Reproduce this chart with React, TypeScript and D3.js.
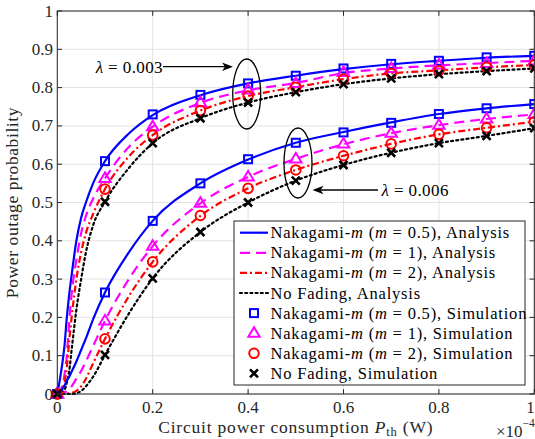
import React from "react";
import * as d3 from "d3";

// ---------- data ----------
const pFine = [0, 0.005, 0.01, 0.015, 0.02, 0.025, 0.03, 0.04, 0.05, 0.06, 0.075, 0.1, 0.15, 0.2, 0.3, 0.4, 0.5, 0.6, 0.7, 0.8, 0.9, 1.0];
// lambda = 0.003 (analysis)
const upBlueA = [0, 0.035, 0.075, 0.125, 0.2, 0.26, 0.31, 0.4, 0.46, 0.5, 0.55, 0.608, 0.68, 0.728, 0.78, 0.811, 0.831, 0.848, 0.861, 0.87, 0.878, 0.883];
const upMagA = [0, 0.005, 0.02, 0.05, 0.1, 0.19, 0.26, 0.35, 0.42, 0.465, 0.51, 0.563, 0.645, 0.698, 0.76, 0.793, 0.812, 0.838, 0.85, 0.858, 0.864, 0.87];
const upRedA = [0, 0.002, 0.01, 0.03, 0.07, 0.14, 0.2, 0.3, 0.37, 0.42, 0.47, 0.535, 0.62, 0.676, 0.74, 0.778, 0.801, 0.822, 0.837, 0.845, 0.853, 0.859];
const upBlkA = [0, 0, 0.002, 0.01, 0.03, 0.06, 0.115, 0.22, 0.3, 0.37, 0.44, 0.502, 0.59, 0.655, 0.72, 0.761, 0.788, 0.809, 0.824, 0.835, 0.843, 0.85];
// lambda = 0.006 (analysis)
const loBlueA = [0, 0.003, 0.012, 0.022, 0.035, 0.045, 0.058, 0.085, 0.115, 0.145, 0.195, 0.265, 0.37, 0.452, 0.55, 0.612, 0.656, 0.684, 0.709, 0.731, 0.746, 0.757];
const loMagA = [0, 0, 0.002, 0.004, 0.008, 0.013, 0.02, 0.04, 0.06, 0.085, 0.125, 0.191, 0.3, 0.386, 0.498, 0.567, 0.614, 0.652, 0.681, 0.702, 0.718, 0.73];
const loRedA = [0, 0, 0, 0.001, 0.001, 0.002, 0.003, 0.008, 0.02, 0.04, 0.08, 0.144, 0.255, 0.345, 0.465, 0.537, 0.585, 0.622, 0.653, 0.678, 0.695, 0.711];
const loBlkA = [0, 0, 0, 0, 0, 0, 0, 0.002, 0.008, 0.02, 0.045, 0.102, 0.21, 0.302, 0.423, 0.5, 0.557, 0.598, 0.63, 0.655, 0.674, 0.694];

const pSim = [0, 0.1, 0.2, 0.3, 0.4, 0.5, 0.6, 0.7, 0.8, 0.9, 1.0];
const upBlueS = [0, 0.608, 0.73, 0.781, 0.811, 0.831, 0.85, 0.862, 0.87, 0.879, 0.883];
const upMagS = [0, 0.563, 0.698, 0.761, 0.794, 0.811, 0.84, 0.85, 0.859, 0.863, 0.87];
const upRedS = [0, 0.535, 0.676, 0.74, 0.778, 0.801, 0.822, 0.837, 0.844, 0.853, 0.859];
const upBlkS = [0, 0.502, 0.655, 0.72, 0.761, 0.788, 0.809, 0.824, 0.835, 0.843, 0.85];
const loBlueS = [0, 0.265, 0.452, 0.55, 0.613, 0.656, 0.683, 0.708, 0.731, 0.746, 0.757];
const loMagS = [0, 0.191, 0.386, 0.498, 0.567, 0.614, 0.653, 0.681, 0.702, 0.718, 0.73];
const loRedS = [0, 0.144, 0.345, 0.466, 0.537, 0.585, 0.622, 0.653, 0.678, 0.695, 0.711];
const loBlkS = [0, 0.102, 0.302, 0.423, 0.5, 0.557, 0.598, 0.63, 0.655, 0.674, 0.694];

const xTicks = [0, 0.2, 0.4, 0.6, 0.8, 1];
const xTickLabels = ["0", "0.2", "0.4", "0.6", "0.8", "1"];
const yTicks = [0, 0.1, 0.2, 0.3, 0.4, 0.5, 0.6, 0.7, 0.8, 0.9, 1];
const yTickLabels = ["0", "0.1", "0.2", "0.3", "0.4", "0.5", "0.6", "0.7", "0.8", "0.9", "1"];

const legendNames = [
  ["Nakagami-", "m", " (", "m", " = 0.5), Analysis"],
  ["Nakagami-", "m", " (", "m", " = 1), Analysis"],
  ["Nakagami-", "m", " (", "m", " = 2), Analysis"],
  ["No Fading, Analysis"],
  ["Nakagami-", "m", " (", "m", " = 0.5), Simulation"],
  ["Nakagami-", "m", " (", "m", " = 1), Simulation"],
  ["Nakagami-", "m", " (", "m", " = 2), Simulation"],
  ["No Fading, Simulation"],
];

const BLUE = "#0000ff";
const MAG = "#ff00ff";
const RED = "#ff0000";
const BLK = "#000000";
const FONT = '"Liberation Serif", "Times New Roman", serif';

const lineStyles = [
  { color: BLUE, dash: "none" },
  { color: MAG, dash: "10,6" },
  { color: RED, dash: "7,3,2,3" },
  { color: BLK, dash: "2,3.2" },
];

function Marker({ kind, x, y }: { kind: number; x: number; y: number }) {
  if (kind === 0)
    return <rect x={x - 4} y={y - 4} width={8} height={8} fill="none" stroke={BLUE} strokeWidth={2} />;
  if (kind === 1) {
    const s = 6;
    return (
      <path
        d={`M${x},${y - s} L${x + s * 0.95},${y + s * 0.6} L${x - s * 0.95},${y + s * 0.6} Z`}
        fill="none"
        stroke={MAG}
        strokeWidth={2}
        strokeLinejoin="miter"
      />
    );
  }
  if (kind === 2) return <circle cx={x} cy={y} r={4.8} fill="none" stroke={RED} strokeWidth={2} />;
  const s = 4;
  return (
    <path d={`M${x - s},${y - s} L${x + s},${y + s} M${x - s},${y + s} L${x + s},${y - s}`} stroke={BLK} strokeWidth={2.6} />
  );
}

const textStyle = (size: number, ls = 0): React.CSSProperties => ({
  fontFamily: FONT,
  fontSize: size,
  letterSpacing: ls,
});

function Lambda({ x, y, val, anchor }: { x: number; y: number; val: string; anchor: "start" | "end" }) {
  return (
    <text x={x} y={y} style={textStyle(17, 0.4)} textAnchor={anchor}>
      <tspan fontStyle="italic">λ</tspan>
      <tspan> = {val}</tspan>
    </text>
  );
}

export default function App() {
  const W = 535;
  const H = 439;
  const x = d3.scaleLinear().domain([0, 1]).range([57.3, 534.3]);
  const y = d3.scaleLinear().domain([0, 1]).range([394, 11]);
  const line = d3
    .line<[number, number]>()
    .x((d) => x(d[0]))
    .y((d) => y(d[1]))
    .curve(d3.curveMonotoneX);

  const analysis = [upBlueA, upMagA, upRedA, upBlkA, loBlueA, loMagA, loRedA, loBlkA];
  const sims = [upBlueS, upMagS, upRedS, upBlkS, loBlueS, loMagS, loRedS, loBlkS];

  const [x0, x1] = x.range();
  const [yb, yt] = y.range();
  const tickLen = 4.8;

  const legX = 234, legY = 221, legW = 291, legH = 164;
  const rowY = (i: number) => 232.7 + i * 20.1;

  const arrowHead = (tx: number, ty: number, dir: number) =>
    `M${tx},${ty} L${tx - dir * 11},${ty - 4.2} L${tx - dir * 8},${ty} L${tx - dir * 11},${ty + 4.2} Z`;

  return (
    <svg
      width={W}
      height={H}
      viewBox={`0 0 ${W} ${H}`}
      style={{ position: "absolute", left: 0, top: 0, background: "#fff" }}
    >
      <rect x={0} y={0} width={W} height={H} fill="#fff" />
      {/* grid */}
      <g stroke="#e3e3e3" strokeWidth={1}>
        {xTicks.map((t) => (
          <line key={"gx" + t} x1={x(t)} x2={x(t)} y1={yb} y2={yt} />
        ))}
        {yTicks.map((t) => (
          <line key={"gy" + t} x1={x0} x2={x1} y1={y(t)} y2={y(t)} />
        ))}
      </g>
      {/* analysis lines */}
      <g fill="none" strokeWidth={2.2}>
        {analysis.map((arr, i) => {
          const st = lineStyles[i % 4];
          const pts = pFine.map((p, j) => [p, arr[j]] as [number, number]);
          return (
            <path key={"l" + i} d={line(pts) || ""} stroke={st.color} strokeDasharray={st.dash} strokeLinecap={i % 4 === 3 ? "round" : "butt"} />
          );
        })}
      </g>
      {/* simulation markers */}
      <g>
        {sims.map((arr, i) =>
          arr.map((v, j) => <Marker key={`m${i}-${j}`} kind={i % 4} x={x(pSim[j])} y={y(v)} />)
        )}
      </g>
      {/* ellipses and annotations */}
      <ellipse cx={246.7} cy={94} rx={14} ry={35} fill="none" stroke="#000" strokeWidth={1.3} />
      <ellipse cx={298} cy={163} rx={14} ry={35} fill="none" stroke="#000" strokeWidth={1.3} />
      <line x1={163} x2={226} y1={66.7} y2={66.7} stroke="#000" strokeWidth={1.3} />
      <path d={arrowHead(233, 66.7, 1)} fill="#000" />
      <Lambda x={163} y={72.5} val="0.003" anchor="end" />
      <line x1={378} x2={319} y1={190} y2={190} stroke="#000" strokeWidth={1.3} />
      <path d={arrowHead(312.5, 190, -1)} fill="#000" />
      <Lambda x={381.5} y={195.8} val="0.006" anchor="start" />
      {/* axes box */}
      <g stroke="#262626" strokeWidth={1} fill="none">
        <rect x={x0} y={yt} width={x1 - x0} height={yb - yt} />
        {xTicks.map((t) => (
          <g key={"tx" + t}>
            <line x1={x(t)} x2={x(t)} y1={yb} y2={yb - tickLen} />
            <line x1={x(t)} x2={x(t)} y1={yt} y2={yt + tickLen} />
          </g>
        ))}
        {yTicks.map((t) => (
          <g key={"ty" + t}>
            <line x1={x0} x2={x0 + tickLen} y1={y(t)} y2={y(t)} />
            <line x1={x1} x2={x1 - tickLen} y1={y(t)} y2={y(t)} />
          </g>
        ))}
      </g>
      {/* tick labels */}
      <g fill="#262626">
        {xTicks.map((t, i) => (
          <text key={"xl" + t} x={Math.min(x(t), 530.5)} y={413} textAnchor="middle" style={textStyle(17)}>
            {xTickLabels[i]}
          </text>
        ))}
        {yTicks.map((t, i) => (
          <text key={"yl" + t} x={53} y={y(t) + 5.5} textAnchor="end" style={textStyle(17)}>
            {yTickLabels[i]}
          </text>
        ))}
      </g>
      {/* axis labels */}
      <text x={(x0 + x1) / 2} y={433} textAnchor="middle" style={textStyle(17.5, 0.8)} fill="#262626">
        Circuit power consumption <tspan fontStyle="italic">P</tspan>
        <tspan fontSize={12.5} dy={3}>th</tspan>
        <tspan dy={-3}> (W)</tspan>
      </text>
      <text
        transform={`translate(18,${(yb + yt) / 2}) rotate(-90)`}
        textAnchor="middle"
        style={textStyle(17.5, 0.6)}
        fill="#262626"
      >
        Power outage probability
      </text>
      <text x={496} y={436.5} style={textStyle(17)} fill="#262626">
        ×10
        <tspan fontSize={11.5} dy={-9.5}>−4</tspan>
      </text>
      {/* legend */}
      <rect x={legX} y={legY} width={legW} height={legH} fill="#fff" stroke="#262626" strokeWidth={1} />
      {legendNames.map((parts, i) => {
        const cy = rowY(i);
        return (
          <g key={"leg" + i}>
            {i < 4 ? (
              <line
                x1={240}
                x2={268}
                y1={cy}
                y2={cy}
                stroke={lineStyles[i].color}
                strokeWidth={2.2}
                strokeDasharray={lineStyles[i].dash}
                strokeLinecap={i === 3 ? "round" : "butt"}
              />
            ) : (
              <Marker kind={i - 4} x={254} y={cy} />
            )}
            <text x={270.5} y={cy + 5.5} style={textStyle(16.5, 0.8)} fill="#000">
              {parts.map((p, k) => (
                <tspan key={k} fontStyle={p === "m" ? "italic" : "normal"}>
                  {p}
                </tspan>
              ))}
            </text>
          </g>
        );
      })}
    </svg>
  );
}
